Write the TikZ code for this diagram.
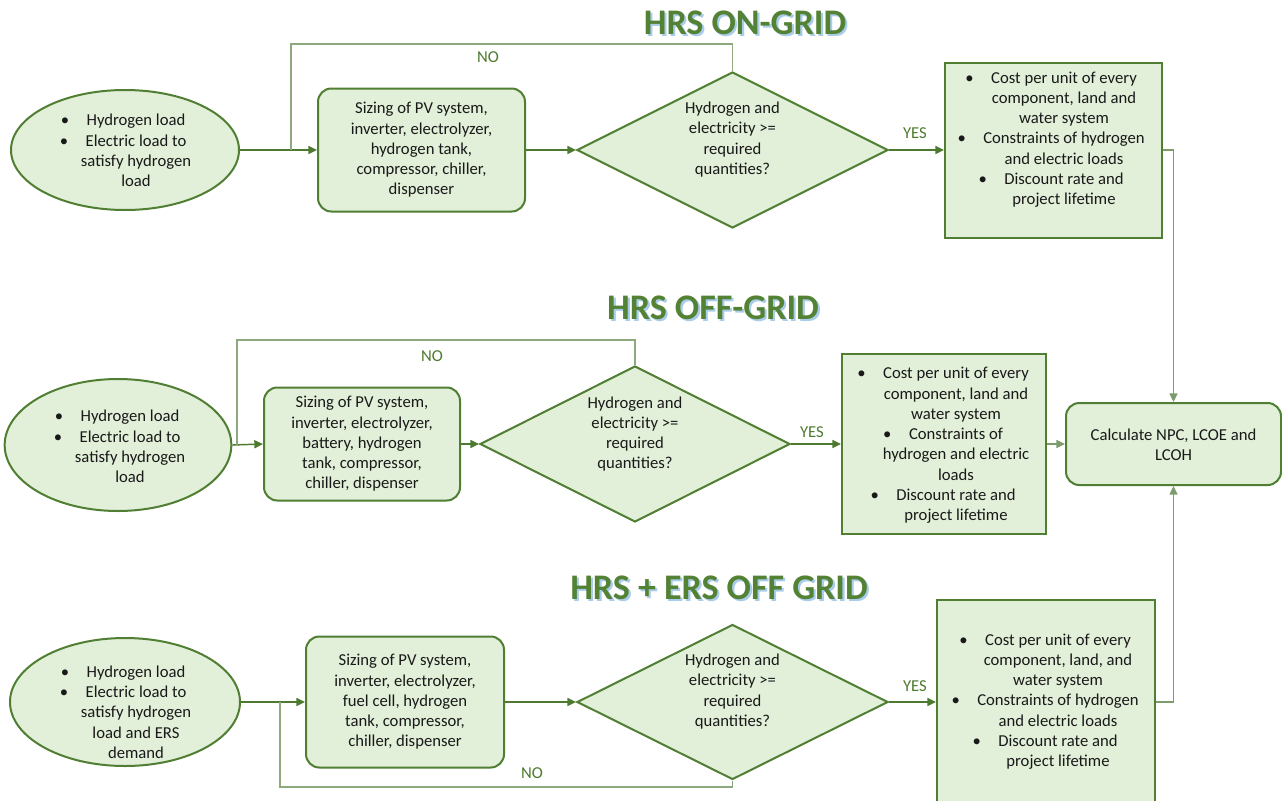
\documentclass[tikz,border=0pt]{standalone}
\usepackage{fontspec}
\setmainfont{Carlito}
\usetikzlibrary{shapes.geometric,arrows.meta}
\definecolor{fillg}{HTML}{E2EFD9}
\definecolor{bord}{HTML}{507E32}
\definecolor{arr}{HTML}{4E7A2F}
\definecolor{loopc}{HTML}{8EA97E}
\definecolor{midc}{HTML}{7E9B6C}
\definecolor{titleg}{HTML}{548235}
\definecolor{shad}{HTML}{A9CCEB}
\newcommand{\bul}{\makebox[0pt][r]{\textbullet\hspace{1.05em}}}
\begin{document}
\begin{tikzpicture}[x=0.75pt,y=-0.75pt,
  font=\fontsize{12.5}{15.2}\selectfont,
  ell/.style={ellipse, draw=bord, fill=fillg, line width=1.5pt, inner sep=0pt},
  rbox/.style={rectangle, rounded corners=10pt, draw=bord, fill=fillg, line width=1.5pt, inner sep=0pt},
  dia/.style={diamond, draw=bord, fill=fillg, line width=1.5pt, inner sep=0pt},
  sbox/.style={rectangle, draw=bord, fill=fillg, line width=1.5pt, inner sep=0pt},
  txt/.style={align=center, inner sep=0pt, text=black!90},
  arrowline/.style={draw=arr, line width=1.1pt, -{Triangle[length=6.5pt,width=6pt]}},
  midarrow/.style={draw=midc, line width=1.1pt, -{Triangle[length=6.5pt,width=6pt]}},
  loopline/.style={draw=loopc, line width=1.1pt},
  lbl/.style={text=arr, inner sep=0pt},
  ttl/.style={font=\fontsize{27}{32}\selectfont\bfseries, inner sep=0pt}
]
\useasboundingbox (0,0) rectangle (1282,800);
\fill[white] (0,0) rectangle (1282,800);

% ---------- titles
\node[ttl, text=shad] (t1s) at ([xshift=1.6pt,yshift=-1.6pt]745,23) {HRS ON-GRID};
\node[ttl, text=titleg] (t1) at (745,23) {HRS ON-GRID};
\node[ttl, text=shad] (t2s) at ([xshift=1.6pt,yshift=-1.6pt]713,308) {HRS OFF-GRID};
\node[ttl, text=titleg] (t2) at (713,308) {HRS OFF-GRID};
\node[ttl, text=shad] (t3s) at ([xshift=1.6pt,yshift=-1.6pt]719,588) {HRS + ERS OFF GRID};
\node[ttl, text=titleg] (t3) at (719,588) {HRS + ERS OFF GRID};

% ---------- row 1
\node[ell, minimum width=171pt, minimum height=90pt] (e1) at (125,150) {};
\node[txt] (te1) at (136,150.5) {\bul Hydrogen load\\ \bul Electric load to\\ satisfy hydrogen\\ load};
\node[rbox, minimum width=155.25pt, minimum height=92.25pt] (s1) at (421.5,150) {};
\node[txt] (ts1) at (421.5,150) {Sizing of PV system,\\ inverter, electrolyzer,\\ hydrogen tank,\\ compressor, chiller,\\ dispenser};
\node[dia, minimum width=233.25pt, minimum height=117pt] (d1) at (732.5,150) {};
\node[txt] (td1) at (732.5,139.5) {Hydrogen and\\ electricity >=\\ required\\ quantities?};
\node[sbox, minimum width=162.75pt, minimum height=131.25pt] (r1) at (1053.5,150) {};
\node[txt] (tr1) at (1064,139.5) {\bul Cost per unit of every\\ component, land and\\ water system\\ \bul Constraints of hydrogen\\ and electric loads\\ \bul Discount rate and\\ project lifetime};

% ---------- row 2
\node[ell, minimum width=170pt, minimum height=99pt] (e2) at (118,445) {};
\node[txt] (te2) at (130,446.5) {\bul Hydrogen load\\ \bul Electric load to\\ satisfy hydrogen\\ load};
\node[rbox, minimum width=147pt, minimum height=84.75pt] (s2) at (362,444) {};
\node[txt] (ts2) at (362,444) {Sizing of PV system,\\ inverter, electrolyzer,\\ battery, hydrogen\\ tank, compressor,\\ chiller, dispenser};
\node[dia, minimum width=232.5pt, minimum height=117pt] (d2) at (635,444) {};
\node[txt] (td2) at (635,434) {Hydrogen and\\ electricity >=\\ required\\ quantities?};
\node[sbox, minimum width=153pt, minimum height=135pt] (r2) at (944,444) {};
\node[txt] (tr2) at (956,445.5) {\bul Cost per unit of every\\ component, land and\\ water system\\ \bul Constraints of\\ hydrogen and electric\\ loads\\ \bul Discount rate and\\ project lifetime};
\node[rbox, minimum width=161.25pt, minimum height=61.5pt] (calc) at (1173.5,444) {};
\node[txt] (tcalc) at (1173.5,444.5) {Calculate NPC, LCOE and\\ LCOH};

% ---------- row 3
\node[ell, minimum width=172.5pt, minimum height=96pt] (e3) at (125,702) {};
\node[txt] (te3) at (136,712) {\bul Hydrogen load\\ \bul Electric load to\\ satisfy hydrogen\\ load and ERS\\ demand};
\node[rbox, minimum width=148.5pt, minimum height=98.25pt] (s3) at (405,702) {};
\node[txt] (ts3) at (405,702) {Sizing of PV system,\\ inverter, electrolyzer,\\ fuel cell, hydrogen\\ tank, compressor,\\ chiller, dispenser};
\node[dia, minimum width=233.25pt, minimum height=116.25pt] (d3) at (732.5,702) {};
\node[txt] (td3) at (732.5,691.5) {Hydrogen and\\ electricity >=\\ required\\ quantities?};
\node[sbox, minimum width=163.5pt, minimum height=153pt] (r3) at (1046,702) {};
\node[txt] (tr3) at (1058,701.5) {\bul Cost per unit of every\\ component, land, and\\ water system\\ \bul Constraints of hydrogen\\ and electric loads\\ \bul Discount rate and\\ project lifetime};

% ---------- connectors row 1
\coordinate (j1) at (291,150);
\draw[arrowline] (e1.east) -- (s1.west);
\draw[loopline] (d1.north) -- (d1.north |- 0,44) -| (j1);
\node[lbl] (no1) at (488,57) {NO};
\draw[arrowline] (s1.east) -- (d1.west);
\draw[arrowline] (d1.east) -- (r1.west);
\node[lbl] (yes1) at (915,133) {YES};
\draw[midarrow] (r1.east) -| (calc.north);

% ---------- connectors row 2
\coordinate (j2) at (237,445);
\draw[arrowline] (e2.east) -- (s2.west);
\draw[loopline] (d2.north) -- (d2.north |- 0,340) -| (j2);
\node[lbl] (no2) at (432,356) {NO};
\draw[arrowline] (s2.east) -- (d2.west);
\draw[arrowline] (d2.east) -- (r2.west);
\node[lbl] (yes2) at (812,432) {YES};
\draw[midarrow] (r2.east) -- (calc.west);

% ---------- connectors row 3
\coordinate (j3) at (280,702);
\draw[arrowline] (e3.east) -- (s3.west);
\draw[loopline] (d3.south) -- (d3.south |- 0,787) -| (j3);
\node[lbl] (no3) at (532,773) {NO};
\draw[arrowline] (s3.east) -- (d3.west);
\draw[arrowline] (d3.east) -- (r3.west);
\node[lbl] (yes3) at (915,686) {YES};
\draw[midarrow] (r3.east) -| (calc.south);
\end{tikzpicture}
\end{document}
